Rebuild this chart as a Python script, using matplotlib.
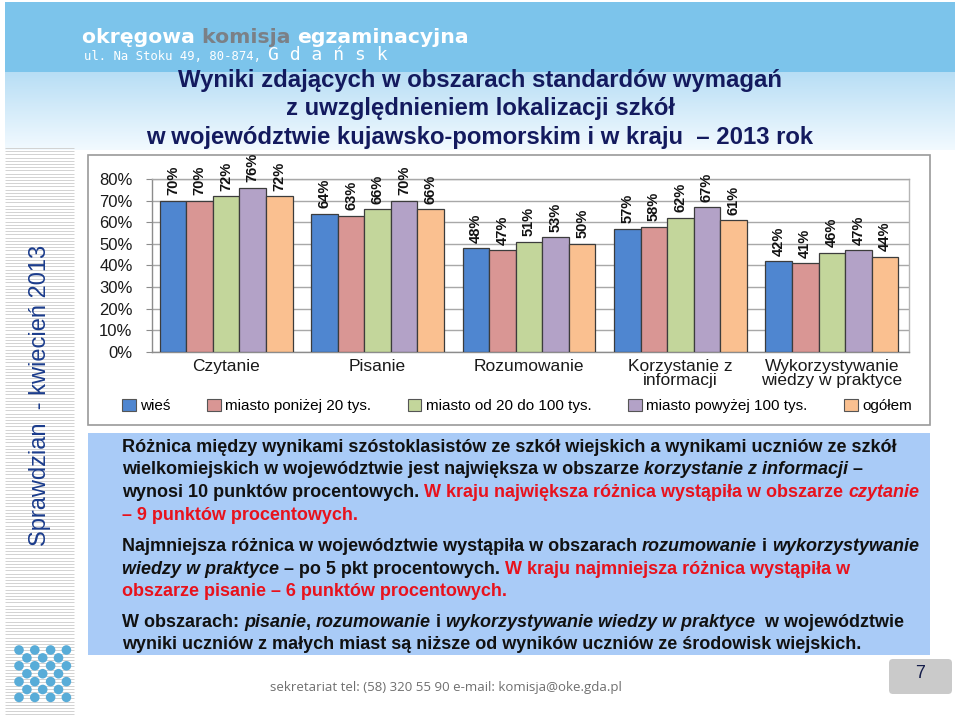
import numpy as np
import matplotlib
matplotlib.use('Agg')
import matplotlib.pyplot as plt
from matplotlib.patches import Rectangle, FancyBboxPatch, Circle, Patch
from matplotlib.font_manager import FontProperties
from matplotlib.ticker import FuncFormatter

# ---------------- data ----------------
categories = ['Czytanie', 'Pisanie', 'Rozumowanie',
              'Korzystanie z\ninformacji', 'Wykorzystywanie\nwiedzy w praktyce']
series_names = ['wieś', 'miasto poniżej 20 tys.', 'miasto od 20 do 100 tys.',
                'miasto powyżej 100 tys.', 'ogółem']
wies = [70, 64, 48, 57, 42]
miasto_ponizej_20 = [70, 63, 47, 58, 41]
miasto_20_100 = [72, 66, 51, 62, 46]
miasto_powyzej_100 = [76, 70, 53, 67, 47]
ogolem = [72, 66, 50, 61, 44]
series_values = [wies, miasto_ponizej_20, miasto_20_100, miasto_powyzej_100, ogolem]
y_ticks = [0, 10, 20, 30, 40, 50, 60, 70, 80]

colors = ['#4f86d0', '#d99694', '#c3d69b', '#b3a2c7', '#fac090']

title_lines = ['Wyniki zdających w obszarach standardów wymagań',
               'z uwzględnieniem lokalizacji szkół',
               'w województwie kujawsko-pomorskim i w kraju  – 2013 rok']

BLACK = '#111111'
RED = '#e8121c'
body = [
    [('Różnica między wynikami szóstoklasistów ze szkół wiejskich a wynikami uczniów ze szkół', BLACK, 'normal')],
    [('wielkomiejskich w województwie jest największa w obszarze ', BLACK, 'normal'),
     ('korzystanie z informacji', BLACK, 'italic'), (' –', BLACK, 'normal')],
    [('wynosi 10 punktów procentowych. ', BLACK, 'normal'),
     ('W kraju największa różnica wystąpiła w obszarze ', RED, 'normal'),
     ('czytanie', RED, 'italic')],
    [('– 9 punktów procentowych.', RED, 'normal')],
    [('Najmniejsza różnica w województwie wystąpiła w obszarach ', BLACK, 'normal'),
     ('rozumowanie', BLACK, 'italic'), (' i ', BLACK, 'normal'),
     ('wykorzystywanie', BLACK, 'italic')],
    [('wiedzy w praktyce', BLACK, 'italic'), (' – po 5 pkt procentowych. ', BLACK, 'normal'),
     ('W kraju najmniejsza różnica wystąpiła w', RED, 'normal')],
    [('obszarze pisanie – 6 punktów procentowych.', RED, 'normal')],
    [('W obszarach: ', BLACK, 'normal'), ('pisanie', BLACK, 'italic'), (', ', BLACK, 'normal'),
     ('rozumowanie', BLACK, 'italic'), (' i ', BLACK, 'normal'),
     ('wykorzystywanie wiedzy w praktyce', BLACK, 'italic'), ('  w województwie', BLACK, 'normal')],
    [('wyniki uczniów z małych miast są niższe od wyników uczniów ze środowisk wiejskich.', BLACK, 'normal')],
]
body_baselines = [452, 474, 497, 520, 551, 574, 596, 627, 649]

# ---------------- figure ----------------
W, H = 960, 716
fig = plt.figure(figsize=(W / 100, H / 100), dpi=100)
bg = fig.add_axes([0, 0, 1, 1], zorder=0)
bg.axis('off')

# header gradient + banner
g = np.linspace(0, 1, 100)[:, None, None]
top_c = np.array([0.72, 0.87, 0.96])
bot_c = np.array([0.95, 0.98, 1.00])
img = top_c * (1 - g) + bot_c * g
bg.imshow(img, extent=(5, 955, 150, 72), aspect='auto', zorder=0)
bg.add_patch(Rectangle((5, 2), 950, 70, fc='#7cc4eb', ec='none', zorder=1))
bg.set_xlim(0, W)
bg.set_ylim(H, 0)

# sidebar stripes
bg.hlines(np.arange(148, 716, 3.2), 5, 74, colors='#d2d2d2', lw=0.7, zorder=1)

# dot logo
for r in range(7):
    for c in range(7):
        if (r + c) % 2 == 0 or (r in (1, 5) and c in (1, 5)):
            bg.add_patch(Circle((19 + c * 7.9, 650 + r * 7.9), 4.8,
                                fc='#58acd8', ec='none', zorder=2))

# vertical sidebar text
bg.text(40, 395, 'Sprawdzian  - kwiecień 2013', rotation=90, ha='center', va='center',
        fontsize=17, color='#1b3c8c', family='Liberation Sans', zorder=3)

# chart box & text box
bg.add_patch(Rectangle((88, 155), 842, 270, fc='white', ec='#9a9a9a', lw=1.2, zorder=2))
bg.add_patch(Rectangle((88, 433), 842, 222, fc='#a9cbf7', ec='none', zorder=2))

# page number box
bg.add_patch(FancyBboxPatch((889, 659), 63, 35, boxstyle='round,pad=0,rounding_size=4',
                            fc='#cacaca', ec='none', zorder=2))
bg.text(920, 673, '7', ha='center', va='center', fontsize=13, color='#141c4a',
        family='Liberation Sans', zorder=3)

# footer
bg.text(270, 688, 'sekretariat tel: (58) 320 55 90 e-mail: komisja@oke.gda.pl',
        ha='left', va='center', fontsize=9.5, color='#6f6f6f', family='Open Sans', zorder=3)

renderer = fig.canvas.get_renderer()


def adv(s, fp):
    w1, _, _ = renderer.get_text_width_height_descent(s + '.', fp, ismath=False)
    w2, _, _ = renderer.get_text_width_height_descent('.', fp, ismath=False)
    return w1 - w2


def seg_line(x0, y, segs, size, family, weight='bold', ha='left', draw=True, z=4):
    fps = [FontProperties(family=family, size=size, weight=weight, style=st) for _, _, st in segs]
    widths = [adv(t, fp) for (t, _, _), fp in zip(segs, fps)]
    total = sum(widths)
    if not draw:
        return total
    x = x0 if ha == 'left' else x0 - total / 2
    for (t, col, st), fp, w in zip(segs, fps, widths):
        bg.text(x, y, t, fontproperties=fp, color=col, va='baseline', ha='left', zorder=z)
        x += w
    return total


# header logo text
hdr = [('okręgowa ', 'white', 'normal'), ('komisja ', '#7b8086', 'normal'),
       ('egzaminacyjna', 'white', 'normal')]
hfam = 'DejaVu Sans'
w0 = seg_line(0, 0, hdr, 20, hfam, draw=False)
seg_line(82, 43, hdr, 20 * 386 / w0, hfam)
seg_line(84, 60, [('ul. Na Stoku 49, 80-874, ', 'white', 'normal')], 8.8, 'DejaVu Sans Mono',
         weight='normal')
bg.text(268, 60, 'G d a ń s k', color='white', fontsize=13, family='DejaVu Sans Mono',
        va='baseline', zorder=4)

# title
tfam = 'Liberation Sans'
tw = seg_line(0, 0, [(title_lines[0], 'k', 'normal')], 16, tfam, draw=False)
tsize = 16 * 602 / tw
for line, yb in zip(title_lines, [87, 115, 144]):
    seg_line(480, yb, [(line, '#131a5e', 'normal')], tsize, tfam, ha='center')

# body text: fit so that no line is wider than the reference text column
bfam = 'Liberation Sans'
bsize = min(12 * 794 / seg_line(0, 0, segs, 12, bfam, draw=False) for segs in body)
for segs, yb in zip(body, body_baselines):
    seg_line(122, yb, segs, bsize, bfam)

# ---------------- chart ----------------
ax = fig.add_axes([152 / W, 1 - 352 / H, (909 - 152) / W, (352 - 179) / H], zorder=3)
ax.set_facecolor('white')
x = np.arange(len(categories))
bw_ = 0.1755
for i, (vals, col) in enumerate(zip(series_values, colors)):
    pos = x + (i - 2) * bw_
    ax.bar(pos, vals, width=bw_, color=col, edgecolor='#3c3c3c', lw=0.9, zorder=3,
           label=series_names[i])
    for px, v in zip(pos, vals):
        ax.annotate(f'{v}%', (px, v), xytext=(0, 4), textcoords='offset points',
                    rotation=90, ha='center', va='bottom', fontsize=10.5, weight='bold',
                    family='Liberation Sans', color='#111111', annotation_clip=False)

ax.set_xlim(-0.49, 4.51)
ax.set_ylim(0, 80)
ax.set_yticks(y_ticks)
ax.yaxis.set_major_formatter(FuncFormatter(lambda v, p: f'{int(v)}%'))
ax.yaxis.grid(True, color='#a8a8a8', lw=1.0, zorder=0)
ax.set_axisbelow(True)
ax.set_xticks(x)
ax.set_xticklabels(categories, fontsize=12.5, family='Liberation Sans', color='#1a1a1a',
                   linespacing=0.95)
ax.tick_params(axis='x', length=0, pad=5)
ax.tick_params(axis='y', length=4, color='#8c8c8c', pad=10, labelsize=12)
for lab in ax.get_yticklabels():
    lab.set_family('Liberation Sans')
    lab.set_color('#1a1a1a')
for s, c in zip(['left', 'bottom', 'right', 'top'], ['#8c8c8c', '#8c8c8c', '#b5b5b5', '#a8a8a8']):
    ax.spines[s].set_color(c)
    ax.spines[s].set_linewidth(1.0)

handles = [Patch(fc=c, ec='#555555', lw=0.8) for c in colors]
fig.legend(handles, series_names, loc='center', bbox_to_anchor=(517 / W, 1 - 406 / H),
           ncol=5, frameon=False, handlelength=0.9, handleheight=0.9, handletextpad=0.3,
           columnspacing=2.38, prop=FontProperties(family='Liberation Sans', size=11))

fig.savefig('out.png', dpi=100)
